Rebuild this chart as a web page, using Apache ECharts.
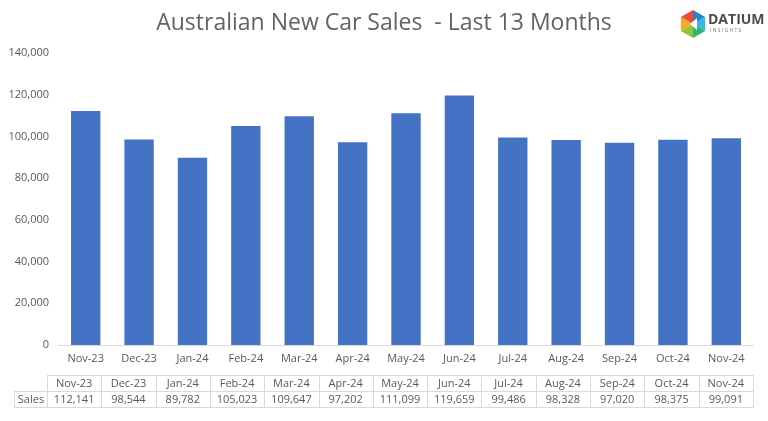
<!DOCTYPE html>
<html><head><meta charset="utf-8">
<script src="https://cdn.jsdelivr.net/npm/echarts@6/dist/echarts.min.js"></script>
<style>html,body{margin:0;padding:0;background:#fff}#c{width:768px;height:421px}</style>
</head><body><div id="c"></div>
<script>
var categories = ['Nov-23','Dec-23','Jan-24','Feb-24','Mar-24','Apr-24','May-24','Jun-24','Jul-24','Aug-24','Sep-24','Oct-24','Nov-24'];
var sales = [112141, 98544, 89782, 105023, 109647, 97202, 111099, 119659, 99486, 98328, 97020, 98375, 99091];
var seriesName = 'Sales';
var titleText = 'Australian New Car Sales  - Last 13 Months';
var FONT = '"Open Sans", sans-serif';
var TXT = '#595959';

var chart = echarts.init(document.getElementById('c'), null, {renderer:'canvas'});
chart.setOption({
  animation: false,
  title: {text: titleText, left: 'center', top: 7,
    textStyle: {fontFamily: FONT, fontSize: 23, fontWeight: 'normal', color: '#636363'}},
  grid: {left: 59, right: 15, top: 53, bottom: 76},
  xAxis: {type: 'category', data: categories,
    axisLine: {lineStyle: {color: '#d9d9d9'}}, axisTick: {show: false},
    axisLabel: {fontFamily: FONT, fontSize: 11, color: TXT, margin: 8}},
  yAxis: {type: 'value', min: 0, max: 140000, interval: 20000,
    splitLine: {show: false}, axisLine: {show: false}, axisTick: {show: false},
    axisLabel: {fontFamily: FONT, fontSize: 11, color: TXT, margin: 10,
      formatter: function(v){return v.toLocaleString('en-US');}}},
  series: [{type: 'bar', name: seriesName, data: sales, barWidth: '55%',
    itemStyle: {color: '#4472C4'}}]
});

function buildGraphics(){
  var g = [];
  var tTop = 375, rowH = 16;
  var lineStyle = {stroke: '#d9d9d9', lineWidth: 1};
  var step = chart.convertToPixel({xAxisIndex:0}, categories[1]) - chart.convertToPixel({xAxisIndex:0}, categories[0]);
  var right = Math.round(chart.convertToPixel({xAxisIndex:0}, categories[categories.length-1]) + step/2);
  var left = 47, labelLeft = 14;
  var n = categories.length;
  var colW = (right - left) / n;
  function hl(x1, x2, y){ g.push({type:'line', shape:{x1:x1, y1:y+0.5, x2:x2, y2:y+0.5}, style:lineStyle, silent:true}); }
  function vl(x, y1, y2){ x = Math.round(x); g.push({type:'line', shape:{x1:x+0.5, y1:y1, x2:x+0.5, y2:y2}, style:lineStyle, silent:true}); }
  hl(left, right+1, tTop);
  hl(labelLeft, right+1, tTop+rowH);
  hl(labelLeft, right+1, tTop+2*rowH);
  vl(labelLeft, tTop+rowH, tTop+2*rowH+1);
  for (var i = 0; i <= n; i++) vl(left + i*colW, tTop, tTop+2*rowH+1);
  categories.forEach(function(c, i){
    var cx = left + (i+0.5)*colW;
    g.push({type:'text', style:{text:c, x:cx, y:tTop+rowH/2+1, textAlign:'center', textVerticalAlign:'middle', fill:TXT, font:'11px ' + FONT}, silent:true});
    g.push({type:'text', style:{text:sales[i].toLocaleString('en-US'), x:cx, y:tTop+rowH*1.5+1, textAlign:'center', textVerticalAlign:'middle', fill:TXT, font:'11px ' + FONT}, silent:true});
  });
  g.push({type:'text', style:{text:seriesName, x:(labelLeft+left)/2+0.5, y:tTop+rowH*1.5+1, textAlign:'center', textVerticalAlign:'middle', fill:TXT, font:'11px ' + FONT}, silent:true});

  // logo
  var cx = 693, cy = 24, r = 14;
  var cols = ['#1e88c8','#39b5e6','#2bb673','#8cc63f','#f7a823','#e94e3c'];
  for (var k = 0; k < 6; k++) {
    var a1 = (k*60 - 90) * Math.PI/180, a2 = ((k+1)*60 - 90) * Math.PI/180;
    g.push({type:'polygon', shape:{points:[[cx,cy],[cx+r*Math.cos(a1),cy+r*Math.sin(a1)],[cx+r*Math.cos(a2),cy+r*Math.sin(a2)]]}, style:{fill:cols[k]}, silent:true});
  }
  g.push({type:'polygon', shape:{points:[[cx+4,cy-6],[cx-3,cy],[cx+4,cy+6]]}, style:{fill:'#ffffff'}, silent:true});
  g.push({type:'text', style:{text:'DATIUM', x:708, y:20, textVerticalAlign:'middle', fill:'#4d4d4d', font:'bold 14px ' + FONT}, silent:true});
  g.push({type:'text', style:{text:'I N S I G H T S', x:710, y:31, textVerticalAlign:'middle', fill:'#777777', font:'5px ' + FONT}, silent:true});
  chart.setOption({graphic: g});
}
buildGraphics();
</script></body></html>
